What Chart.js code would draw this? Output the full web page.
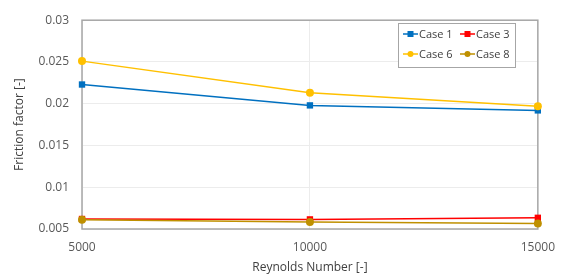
<!DOCTYPE html>
<html>
<head>
<meta charset="utf-8">
<script src="https://cdn.jsdelivr.net/npm/chart.js@4.4.0/dist/chart.umd.min.js"></script>
<style>
  html, body { margin: 0; padding: 0; background: #fff; }
  #wrap { width: 566px; height: 280px; }
</style>
</head>
<body>
<div id="wrap"><canvas id="frictionChart" width="566" height="280"></canvas></div>
<script>
// friction factor vs Reynolds number

const reynolds = [5000, 10000, 15000];
const case1 = [0.0223, 0.0198, 0.0192];
const case3 = [0.0062, 0.00615, 0.00634];
const case6 = [0.0251, 0.0213, 0.0197];
const case8 = [0.0061, 0.00584, 0.00566];
const yTicks = [0.005, 0.01, 0.015, 0.02, 0.025, 0.03];
const xTicks = [5000, 10000, 15000];

const FONT = "'Open Sans', 'Noto Sans', sans-serif";

function pts(vals) {
  return reynolds.map((x, i) => ({ x: x, y: vals[i] }));
}

function series(label, vals, color, shape, order) {
  return {
    label: label,
    data: pts(vals),
    borderColor: color,
    backgroundColor: color,
    borderWidth: 1.5,
    pointStyle: shape,
    pointRadius: shape === 'rect' ? 4.5 : 4,
    pointBorderWidth: 0,
    clip: false,
    order: order
  };
}

// box round the plot area
const frameBox = {
  id: 'frameBox',
  beforeDatasetsDraw(chart) {
    const a = chart.chartArea, c = chart.ctx;
    c.save();
    c.strokeStyle = '#a6a6a6';
    c.lineWidth = 1.5;
    c.strokeRect(a.left, a.top, a.right - a.left, a.bottom - a.top);
    c.restore();
  }
};

// legend box inside the plot, two columns
const boxLegend = {
  id: 'boxLegend',
  afterDraw(chart) {
    const c = chart.ctx;
    const x0 = 398, y0 = 23, w = 117, h = 44;
    c.save();
    c.fillStyle = '#fff';
    c.fillRect(x0, y0, w, h);
    c.strokeStyle = '#a6a6a6';
    c.lineWidth = 1;
    c.strokeRect(x0 + 0.5, y0 + 0.5, w, h);
    c.font = '11px ' + FONT;
    c.textBaseline = 'middle';
    [0, 1, 2, 3].forEach((di, k) => {
      const ds = chart.data.datasets[di];
      const col = k % 2, row = Math.floor(k / 2);
      const lx = x0 + 5 + col * 57;
      const ly = y0 + 11 + row * 20;
      c.strokeStyle = ds.borderColor;
      c.lineWidth = 1.5;
      c.beginPath();
      c.moveTo(lx, ly);
      c.lineTo(lx + 15, ly);
      c.stroke();
      c.fillStyle = ds.backgroundColor;
      if (ds.pointStyle === 'rect') {
        c.fillRect(lx + 4.5, ly - 3, 6, 6);
      } else {
        c.beginPath();
        c.arc(lx + 7.5, ly, 3, 0, Math.PI * 2);
        c.fill();
      }
      c.fillStyle = '#404040';
      c.fillText(ds.label, lx + 16, ly + 0.5);
    });
    c.restore();
  }
};

const ctx = document.getElementById('frictionChart').getContext('2d');

new Chart(ctx, {
  type: 'line',
  data: {
    datasets: [
      series('Case 1', case1, '#0070C0', 'rect', 4),
      series('Case 3', case3, '#FF0000', 'rect', 3),
      series('Case 6', case6, '#FFC000', 'circle', 2),
      series('Case 8', case8, '#BF9000', 'circle', 1)
    ]
  },
  options: {
    responsive: false,
    animation: false,
    layout: { padding: { left: 0, right: 25, top: 11, bottom: 0 } },
    plugins: {
      legend: { display: false },
      tooltip: { enabled: false }
    },
    scales: {
      x: {
        type: 'linear',
        min: 5000,
        max: 15000,
        afterBuildTicks: s => { s.ticks = xTicks.map(v => ({ value: v })); },
        afterFit: s => { s.height = 51; },
        grid: { color: '#ececec', drawTicks: false },
        border: { display: false },
        ticks: {
          color: '#595959',
          font: { family: FONT, size: 12 },
          padding: 11,
          maxRotation: 0,
          callback: v => String(v)
        },
        title: {
          display: true,
          text: 'Reynolds Number [-]',
          color: '#404040',
          font: { family: FONT, size: 12 },
          padding: { top: 0, bottom: 5 }
        }
      },
      y: {
        min: 0.005,
        max: 0.03,
        afterBuildTicks: s => { s.ticks = yTicks.map(v => ({ value: v })); },
        afterFit: s => { s.width = 82; },
        grid: { color: '#ececec', drawTicks: false },
        border: { display: false },
        ticks: {
          color: '#595959',
          font: { family: FONT, size: 12 },
          padding: 13,
          callback: v => String(+v.toFixed(3))
        },
        title: {
          display: true,
          text: 'Friction factor [-]',
          color: '#404040',
          font: { family: FONT, size: 12 },
          padding: { top: 12, bottom: 0 }
        }
      }
    }
  },
  plugins: [frameBox, boxLegend]
});
</script>
</body>
</html>
